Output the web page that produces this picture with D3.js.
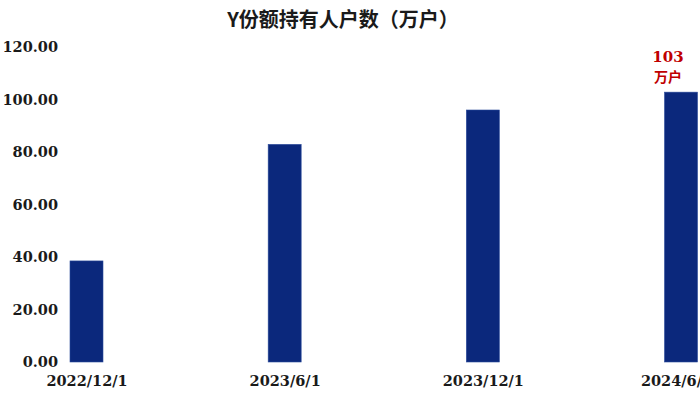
<!DOCTYPE html>
<html>
<head>
<meta charset="utf-8">
<script src="https://cdn.jsdelivr.net/npm/d3@7"></script>
<style>
html,body{margin:0;padding:0;background:#fff;}
svg{display:block;}
</style>
</head>
<body>
<svg id="chart" width="700" height="401"></svg>
<script>
const title = "Y份额持有人户数（万户）";
const categories = ["2022/12/1", "2023/6/1", "2023/12/1", "2024/6/30"];
const values = [38.5, 82.9, 96.0, 102.8];
const yTicks = [0, 20, 40, 60, 80, 100, 120];
const annotationLines = ["103", "万户"];

const serif = "'DejaVu Serif','Noto Sans CJK SC',serif";
const svg = d3.select("#chart");

const x = d3.scalePoint().domain(categories).range([86.5, 681]);
const barW = 33;
const y = d3.scaleLinear().domain([0, 120]).range([362, 47]);

svg.append("text")
  .attr("x", 343).attr("y", 27)
  .attr("text-anchor", "middle")
  .attr("font-family", "'Noto Sans CJK SC',serif")
  .attr("font-weight", "bold")
  .attr("font-size", 20)
  .attr("fill", "#1a1a1a")
  .text(title);

// y axis
const yAxis = svg.append("g")
  .attr("transform", "translate(58,0)")
  .call(d3.axisLeft(y).tickValues(yTicks).tickFormat(d3.format(".2f")).tickSize(0).tickPadding(0));
yAxis.select(".domain").remove();
yAxis.selectAll("text")
  .attr("font-family", serif)
  .attr("font-weight", "bold")
  .attr("font-size", 14.5)
  .attr("fill", "#1a1a1a");

// x axis
const xAxis = svg.append("g")
  .attr("transform", "translate(0,362)")
  .call(d3.axisBottom(x).tickSize(0).tickPadding(14));
xAxis.select(".domain").remove();
xAxis.selectAll("text")
  .attr("font-family", serif)
  .attr("font-weight", "bold")
  .attr("font-size", 14.5)
  .attr("fill", "#1a1a1a");

// bars
svg.append("g").selectAll("rect")
  .data(categories.map((c, i) => ({c, v: values[i]})))
  .join("rect")
  .attr("x", d => x(d.c) - barW / 2)
  .attr("y", d => y(d.v))
  .attr("width", barW)
  .attr("height", d => y(0) - y(d.v))
  .attr("fill", "#0b287c")
  .attr("stroke", "#2a4a9a")
  .attr("stroke-width", 0.6);

// annotation
const last = categories[categories.length - 1];
const ax = x(last) - 13;
const ay = y(values[values.length - 1]);
svg.append("text")
  .attr("x", ax).attr("y", ay - 30)
  .attr("text-anchor", "middle")
  .attr("font-family", serif).attr("font-weight", "bold")
  .attr("font-size", 15).attr("fill", "#c00000")
  .text(annotationLines[0]);
svg.append("text")
  .attr("x", ax).attr("y", ay - 10)
  .attr("text-anchor", "middle")
  .attr("font-family", "'Noto Sans CJK SC',serif").attr("font-weight", "bold")
  .attr("font-size", 14).attr("fill", "#c00000")
  .text(annotationLines[1]);
</script>
</body>
</html>
